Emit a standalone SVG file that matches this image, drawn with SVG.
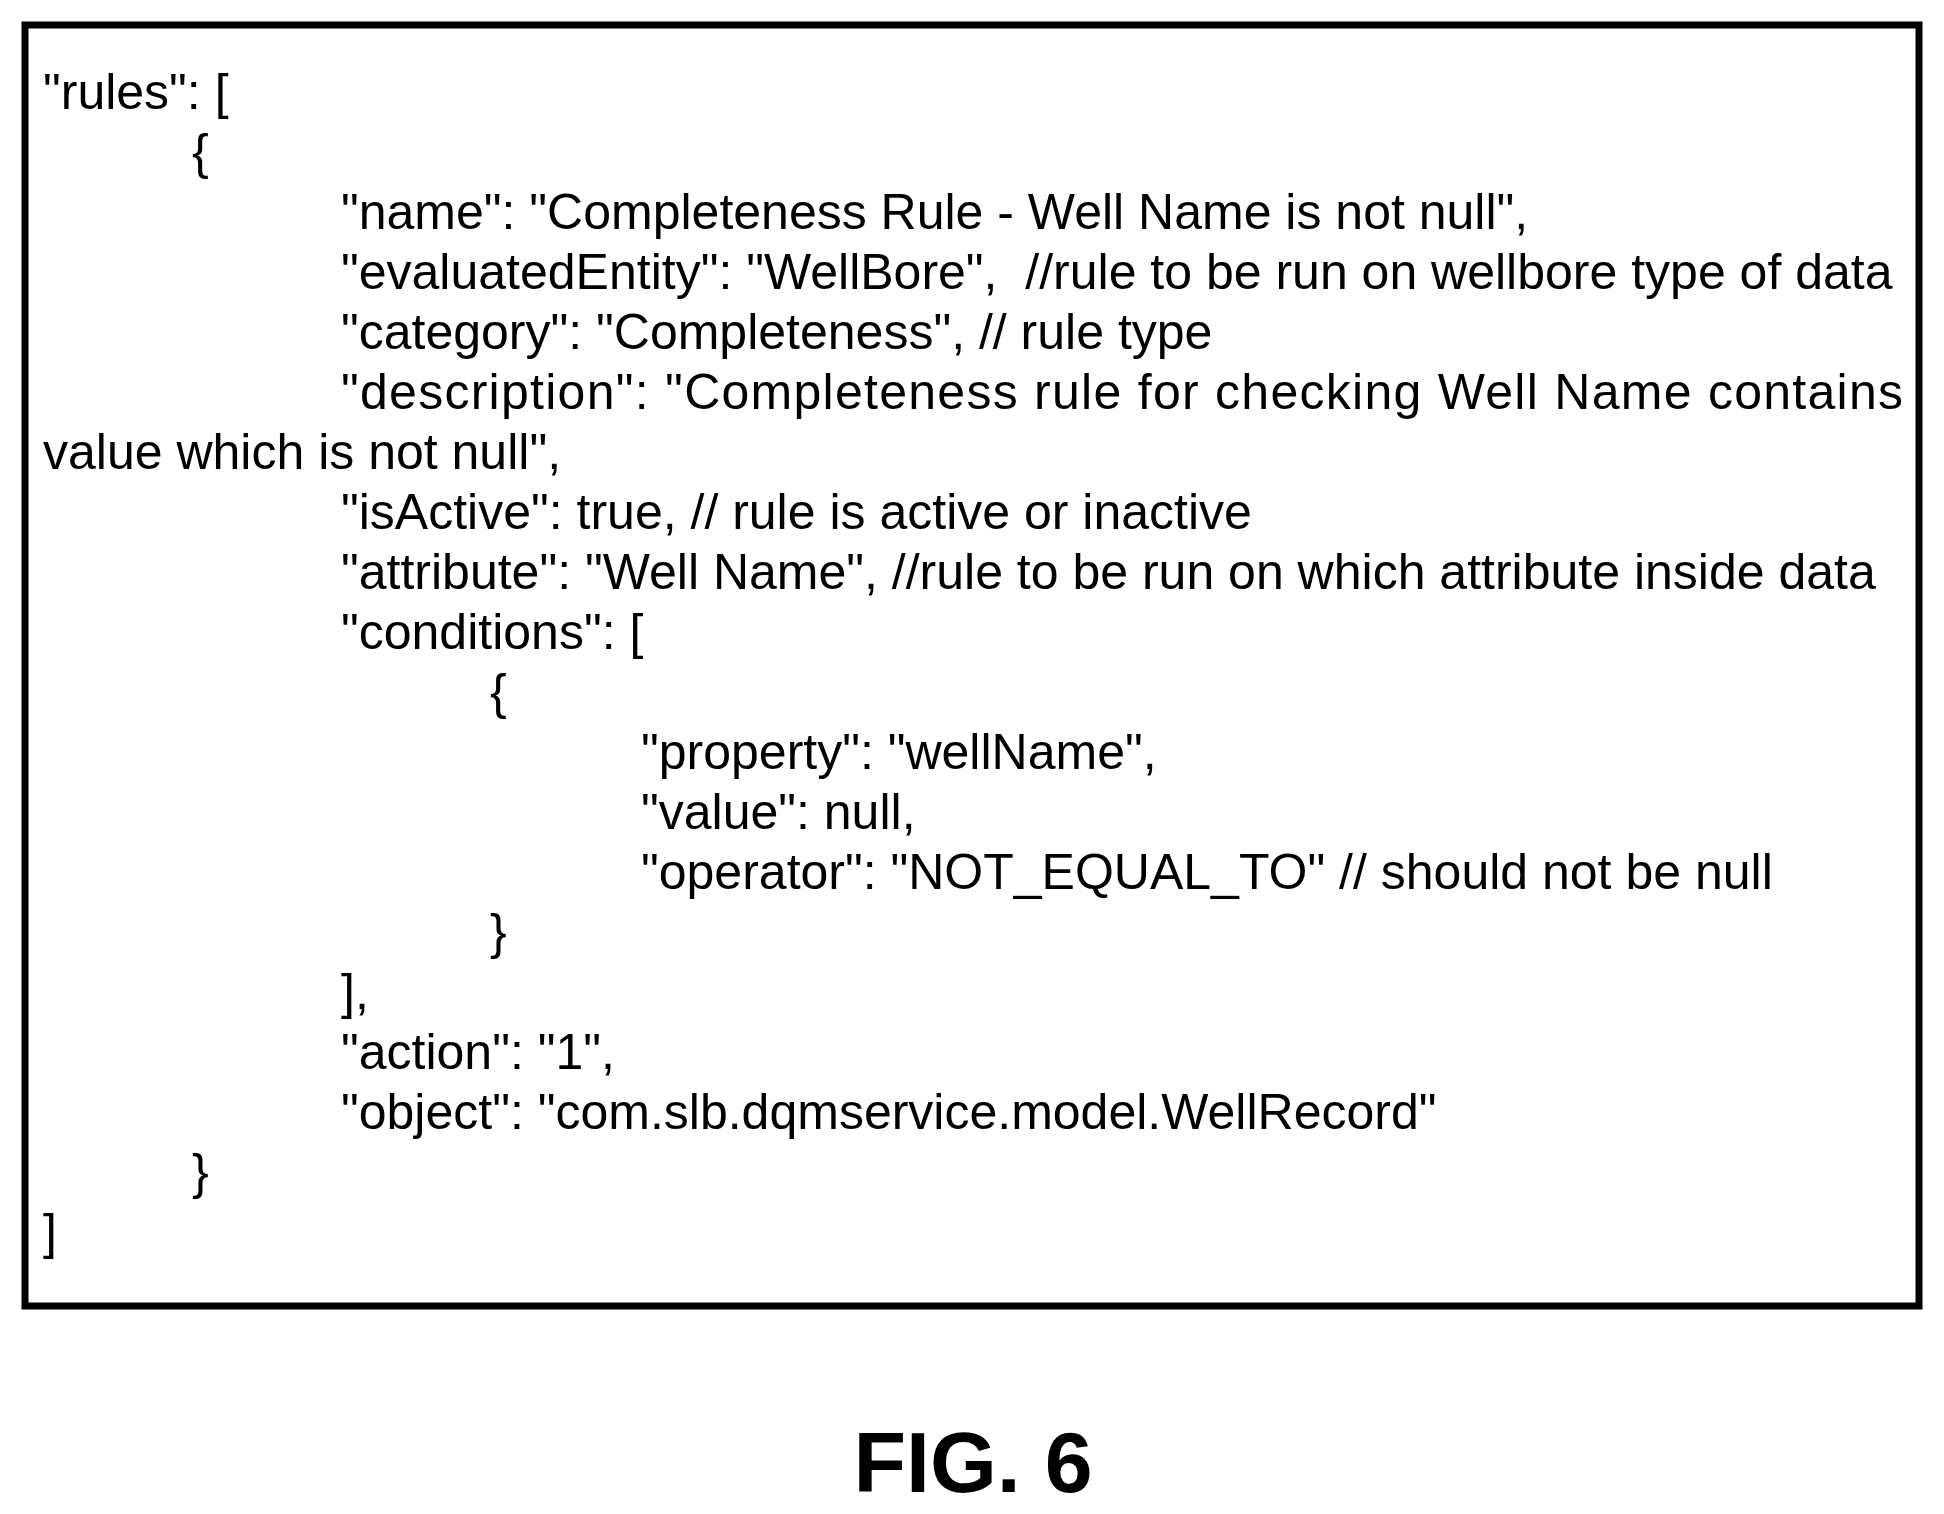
<svg xmlns="http://www.w3.org/2000/svg" width="1944" height="1514" viewBox="0 0 1944 1514">
<style>
text{font-family:"Liberation Sans",Arial,sans-serif;font-size:50px;fill:#000}
.fig{font-weight:bold;font-size:86px}
</style>
<rect width="1944" height="1514" fill="#fff"/>
<g id="box"><rect x="25" y="25" width="1894" height="1281" fill="none" stroke="#000" stroke-width="7"/></g>
<g id="code">
<text x="43" y="109">"rules": [</text>
<text x="192" y="169">{</text>
<text x="341" y="229">"name": "Completeness Rule - Well Name is not null",</text>
<text x="341" y="289" xml:space="preserve">"evaluatedEntity": "WellBore",  //rule to be run on wellbore type of data</text>
<text x="341" y="349">"category": "Completeness", // rule type</text>
<text x="341" y="409" textLength="1562" lengthAdjust="spacing" xml:space="preserve">"description": "Completeness rule for checking Well Name contains</text>
<text x="43" y="469">value which is not null",</text>
<text x="341" y="529">"isActive": true, // rule is active or inactive</text>
<text x="341" y="589">"attribute": "Well Name", //rule to be run on which attribute inside data</text>
<text x="341" y="649">"conditions": [</text>
<text x="490" y="709">{</text>
<text x="641" y="769">"property": "wellName",</text>
<text x="641" y="829">"value": null,</text>
<text x="641" y="889">"operator": "NOT_EQUAL_TO" // should not be null</text>
<text x="490" y="949">}</text>
<text x="341" y="1009">],</text>
<text x="341" y="1069">"action": "1",</text>
<text x="341" y="1129">"object": "com.slb.dqmservice.model.WellRecord"</text>
<text x="192" y="1189">}</text>
<text x="43" y="1249">]</text>
</g>
<g id="caption"><text class="fig" x="973" y="1492" text-anchor="middle">FIG. 6</text></g>
</svg>
